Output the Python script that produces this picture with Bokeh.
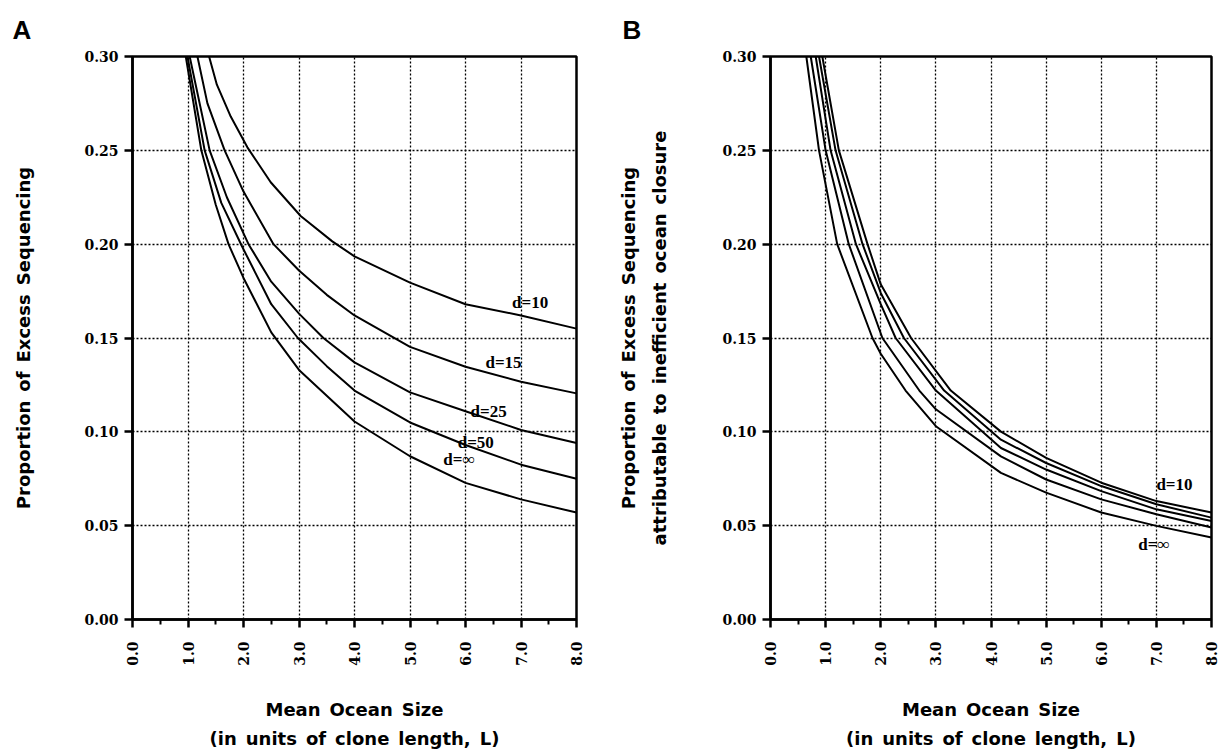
import numpy as np
from bokeh.plotting import figure
from bokeh.models import Range1d, FixedTicker, PrintfTickFormatter
from bokeh.layouts import row
from bokeh.embed import file_html
from bokeh.resources import INLINE
from bokeh.core.properties import value

# ---------------- data ----------------
x_ticks = [0, 1, 2, 3, 4, 5, 6, 7, 8]
x_minor = [0.5, 1.5, 2.5, 3.5, 4.5, 5.5, 6.5, 7.5]
y_ticks = [0.0, 0.05, 0.10, 0.15, 0.20, 0.25, 0.30]

# Panel A: proportion of excess sequencing
a_x_10 = [1.38, 1.52, 1.77, 2.07, 2.49, 2.85, 3.03, 3.6, 4.0, 5.0, 6.0, 7.0, 8.0]
a_y_10 = [0.30, 0.285, 0.268, 0.2516, 0.233, 0.221, 0.215, 0.2015, 0.1935, 0.1795, 0.168, 0.162, 0.155]
a_x_15 = [1.17, 1.35, 1.66, 2.0, 2.54, 3.0, 3.5, 4.0, 5.0, 6.0, 7.0, 8.0]
a_y_15 = [0.30, 0.275, 0.25, 0.228, 0.20, 0.186, 0.173, 0.162, 0.1453, 0.1347, 0.1267, 0.1205]
a_x_25 = [1.03, 1.39, 1.70, 2.09, 2.5, 3.0, 3.44, 4.0, 5.0, 6.0, 7.0, 8.0]
a_y_25 = [0.30, 0.25, 0.225, 0.20, 0.18, 0.163, 0.15, 0.137, 0.121, 0.111, 0.101, 0.094]
a_x_50 = [0.99, 1.30, 1.60, 1.97, 2.5, 2.98, 3.5, 4.0, 5.0, 6.0, 7.0, 8.0]
a_y_50 = [0.30, 0.25, 0.222, 0.199, 0.168, 0.15, 0.135, 0.122, 0.105, 0.093, 0.0825, 0.075]
a_x_inf = [0.96, 1.24, 1.50, 1.73, 2.0, 2.5, 3.0, 4.0, 5.0, 6.0, 7.0, 8.0]
a_y_inf = [0.30, 0.25, 0.221, 0.20, 0.182, 0.153, 0.133, 0.1055, 0.087, 0.0728, 0.064, 0.057]

# Panel B: proportion attributable to inefficient ocean closure
b_x_10 = [0.94, 1.24, 1.76, 2.0, 2.55, 3.27, 4.18, 5.0, 6.0, 7.0, 8.0]
b_y_10 = [0.30, 0.25, 0.20, 0.1786, 0.15, 0.122, 0.1001, 0.0861, 0.0729, 0.0631, 0.057]
b_x_15 = [0.88, 1.18, 1.67, 2.0, 2.42, 3.15, 4.18, 5.0, 6.0, 7.0, 8.0]
b_y_15 = [0.30, 0.25, 0.20, 0.174, 0.15, 0.122, 0.0958, 0.0834, 0.0711, 0.0614, 0.0543]
b_x_25 = [0.82, 1.09, 1.55, 2.0, 2.27, 3.0, 4.18, 5.0, 6.0, 7.0, 8.0]
b_y_25 = [0.30, 0.25, 0.20, 0.168, 0.15, 0.122, 0.0914, 0.0799, 0.0684, 0.0587, 0.0525]
b_x_50 = [0.73, 1.0, 1.42, 2.03, 2.70, 3.0, 4.18, 5.0, 6.0, 7.0, 8.0]
b_y_50 = [0.30, 0.25, 0.20, 0.15, 0.122, 0.112, 0.0869, 0.0746, 0.064, 0.0561, 0.049]
b_x_inf = [0.65, 0.88, 1.21, 1.85, 2.0, 2.45, 3.0, 4.18, 5.0, 6.0, 7.0, 8.0]
b_y_inf = [0.30, 0.25, 0.20, 0.15, 0.1416, 0.122, 0.103, 0.0781, 0.0676, 0.057, 0.0499, 0.0437]

# curve labels
a_lab_text = ["d=10", "d=15", "d=25", "d=50", "d=\u221e"]
a_lab_x = [6.84, 6.36, 6.09, 5.86, 5.60]
a_lab_y = [0.169, 0.137, 0.111, 0.0945, 0.0855]
b_lab_text = ["d=10", "d=\u221e"]
b_lab_x = [7.0, 6.67]
b_lab_y = [0.072, 0.040]

x_label = "Mean\u2002Ocean\u2002Size\n(in\u2002units\u2002of\u2002clone\u2002length,\u2002L)"
ya_label = "Proportion\u2002of\u2002Excess\u2002Sequencing"
yb_label = ("Proportion\u2002of\u2002Excess\u2002Sequencing\n"
            "attributable\u2002to\u2002inefficient\u2002ocean\u2002closure")


def make_fig(width, bl, br, ylab, ylab_standoff, letter, letter_offset):
    p = figure(width=width, height=752, x_range=Range1d(0, 8), y_range=Range1d(0, 0.30),
               output_backend="svg", toolbar_location=None,
               min_border_left=bl, min_border_right=br, min_border_top=56, min_border_bottom=131)
    p.title.text = letter
    p.title.align = "left"
    p.title.vertical_align = "top"
    p.title.offset = letter_offset
    p.title.standoff = 19
    p.title.text_font = "Liberation Sans"
    p.title.text_font_style = "bold"
    p.title.text_font_size = "26px"
    p.title.text_color = "black"
    p.background_fill_color = "white"
    p.border_fill_color = "white"
    p.outline_line_color = "black"
    p.outline_line_width = 2.5
    p.outline_line_alpha = 1.0

    p.xaxis.ticker = FixedTicker(ticks=x_ticks, minor_ticks=x_minor)
    p.yaxis.ticker = FixedTicker(ticks=y_ticks, minor_ticks=[])
    p.xaxis.formatter = PrintfTickFormatter(format="%.1f")
    p.yaxis.formatter = PrintfTickFormatter(format="%.2f")
    p.xaxis.major_label_orientation = np.pi / 2

    for ax in (p.xaxis[0], p.yaxis[0]):
        ax.axis_line_color = "black"
        ax.axis_line_width = 2.5
        ax.major_tick_line_color = "black"
        ax.major_tick_line_width = 2.5
        ax.major_tick_out = 8
        ax.major_tick_in = 0
        ax.minor_tick_line_color = "black"
        ax.minor_tick_line_width = 2
        ax.minor_tick_out = 5
        ax.minor_tick_in = 0
        ax.major_label_text_font = "DejaVu Serif"
        ax.major_label_text_font_style = "bold"
        ax.major_label_text_font_size = "14px"
        ax.major_label_text_color = "black"
        ax.axis_label_text_font = "DejaVu Sans"
        ax.axis_label_text_font_style = "bold"
        ax.axis_label_text_font_size = "18px"
        ax.axis_label_text_color = "black"
        ax.axis_label_text_line_height = 1.4
    p.yaxis.minor_tick_line_color = None
    p.xaxis.major_label_standoff = 14
    p.yaxis.major_label_standoff = 6
    p.xaxis.axis_label = x_label
    p.xaxis.axis_label_standoff = 30
    p.yaxis.axis_label = ylab
    p.yaxis.axis_label_standoff = ylab_standoff
    p.yaxis.axis_label_text_line_height = 1.5

    for g in (p.xgrid[0], p.ygrid[0]):
        g.grid_line_color = "black"
        g.grid_line_dash = "2 2"
        g.grid_line_width = 1.3
        g.grid_line_alpha = 1.0
    return p


pA = make_fig(600, 132, 24, ya_label, 47, "A", -120)
for xs, ys in [(a_x_10, a_y_10), (a_x_15, a_y_15), (a_x_25, a_y_25), (a_x_50, a_y_50), (a_x_inf, a_y_inf)]:
    pA.line(xs, ys, line_color="black", line_width=2)
pA.text(x=a_lab_x, y=a_lab_y, text=a_lab_text, text_font=value("Liberation Serif"),
        text_font_style="bold", text_font_size="17px", text_align="left",
        text_baseline="middle", text_color="black")

pB = make_fig(626, 170, 15, yb_label, 49, "B", -148)
for xs, ys in [(b_x_10, b_y_10), (b_x_15, b_y_15), (b_x_25, b_y_25), (b_x_50, b_y_50), (b_x_inf, b_y_inf)]:
    pB.line(xs, ys, line_color="black", line_width=2)
pB.text(x=b_lab_x, y=b_lab_y, text=b_lab_text, text_font=value("Liberation Serif"),
        text_font_style="bold", text_font_size="17px", text_align="left",
        text_baseline="middle", text_color="black")

layout = row(pA, pB)
open("out.html", "w").write(file_html(layout, INLINE))
